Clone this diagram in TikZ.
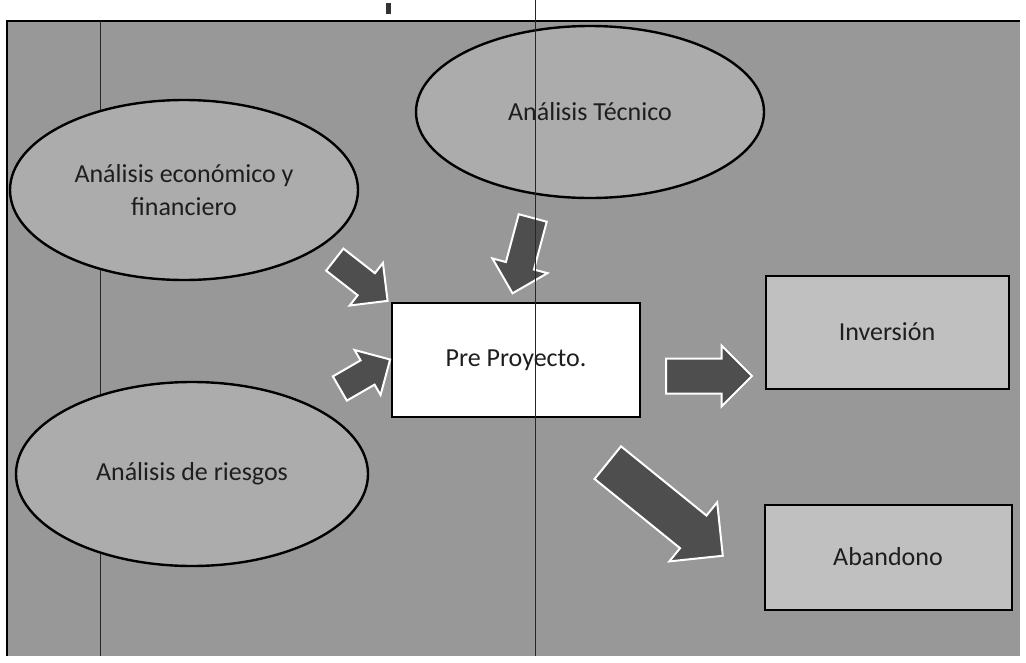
\documentclass[tikz,border=0pt]{standalone}
\usepackage{fontspec}
\setmainfont{Carlito}
\usetikzlibrary{shapes.geometric,shapes.arrows}
\definecolor{bggrey}{RGB}{152,152,152}
\definecolor{ellgrey}{RGB}{172,172,172}
\definecolor{boxgrey}{RGB}{192,192,192}
\definecolor{arrgrey}{RGB}{78,78,78}
\definecolor{txt}{RGB}{30,30,30}
\tikzset{
  ellnode/.style={ellipse, draw=black, line width=2.4pt, fill=ellgrey, inner sep=0pt,
    text=txt, font=\fontsize{26}{33}\selectfont, align=center},
  boxnode/.style={rectangle, draw=black, line width=2pt, fill=boxgrey, inner sep=0pt,
    text=txt, font=\fontsize{26}{33}\selectfont},
  blockarrow/.style={single arrow, draw=white, line width=2pt, fill=arrgrey, inner xsep=0pt,
    anchor=tail, single arrow tip angle=90},
  scanline/.style={draw=black!85, line width=1pt}
}
\begin{document}
\begin{tikzpicture}[x=1pt,y=-1pt]
\useasboundingbox (0,0) rectangle (1026,662);
\fill[white] (0,0) rectangle (1026,662);
% grey sheet
\fill[bggrey] (6,20) rectangle (1020,656);
\draw[black, line width=2pt] (6,21) -- (1020,21);
\draw[black, line width=2pt] (7,20) -- (7,656);
% scan artefacts
\fill[black!80] (386,3) rectangle (391,14);
\draw[scanline] (100,21) -- (100,656);

% ellipses
\node[ellnode, minimum width=348pt, minimum height=172pt] (tec) at (590,112) {Análisis Técnico};
\node[ellnode, minimum width=348pt, minimum height=180pt] (eco) at (184,190) {Análisis económico y\\financiero};
\node[ellnode, minimum width=352pt, minimum height=184pt] (rie) at (192,474) {Análisis de riesgos};

% boxes
\node[boxnode, fill=white, minimum width=248pt, minimum height=114pt] (pre) at (516,360) {Pre Proyecto.};
\node[boxnode, minimum width=243pt, minimum height=113pt] (inv) at (887,332) {Inversión};
\node[boxnode, minimum width=247pt, minimum height=105pt] (aba) at (888,557) {Abandono};

% block arrows
\node[blockarrow, minimum height=67pt, inner ysep=13pt, single arrow head extend=13pt, rotate=-38] (a1) at (334,259) {};
\node[blockarrow, minimum height=58pt, inner ysep=13pt, single arrow head extend=12pt, rotate=30] (a2) at (339,389) {};
\node[blockarrow, minimum height=78pt, inner ysep=13.5pt, single arrow head extend=14pt, rotate=-105] (a3) at (533,217) {};
\node[blockarrow, minimum height=86pt, inner ysep=16.5pt, single arrow head extend=13pt, rotate=0] (a4) at (665,376) {};
\node[blockarrow, minimum height=148pt, inner ysep=20pt, single arrow head extend=17pt, rotate=-39] (a5) at (607,462) {};

% long scan line over everything
\draw[scanline] (535,0) -- (535,656);
\end{tikzpicture}
\end{document}
